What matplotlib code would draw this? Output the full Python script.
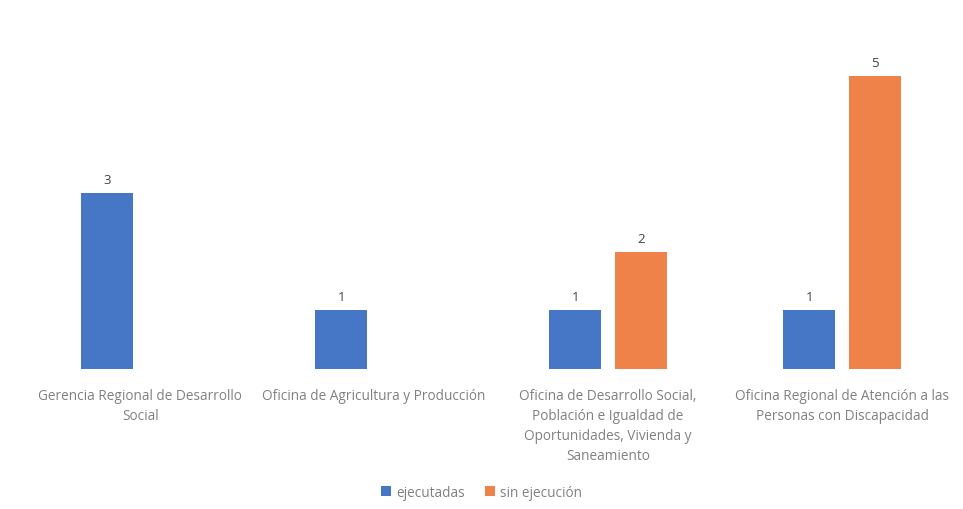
import matplotlib
matplotlib.use("Agg")
import matplotlib.pyplot as plt
import numpy as np

categories = [
    "Gerencia Regional de Desarrollo\nSocial",
    "Oficina de Agricultura y Producción",
    "Oficina de Desarrollo Social,\nPoblación e Igualdad de\nOportunidades, Vivienda y\nSaneamiento",
    "Oficina Regional de Atención a las\nPersonas con Discapacidad",
]
ejecutadas = [3, 1, 1, 1]
sin_ejecucion = [np.nan, np.nan, 2, 5]

plt.rcParams['font.family'] = ['Open Sans', 'DejaVu Sans']
fig = plt.figure(figsize=(9.63, 5.10), dpi=100)
ax = fig.add_axes([0.024, 0.2745, 0.972, 0.69])

x = np.arange(len(categories))
w = 0.222
off = 0.141
blue = "#4676C6"
orange = "#EF8249"
b1 = ax.bar(x - off, ejecutadas, w, color=blue, label="ejecutadas")
b2 = ax.bar(x + off, sin_ejecucion, w, color=orange, label="sin ejecución")

for xi, v in zip(x - off, ejecutadas):
    ax.text(xi, v + 0.12, str(v), ha="center", va="bottom", fontsize=9.5, color="#404040")
for xi, v in zip(x + off, sin_ejecucion):
    if not np.isnan(v):
        ax.text(xi, v + 0.12, str(int(v)), ha="center", va="bottom", fontsize=9.5, color="#404040")

ax.set_xlim(-0.5, 3.5)
ax.set_ylim(0, 6)
ax.set_yticks([])
ax.set_xticks(x)
ax.set_xticklabels(categories, fontsize=9.8, color="#808080", linespacing=1.45)
ax.tick_params(axis="x", length=0, pad=14)
for s in ax.spines.values():
    s.set_visible(False)

fig.legend(handles=[b1, b2], loc="center", bbox_to_anchor=(0.5, 0.033), ncol=2,
           frameon=False, fontsize=9.8, labelcolor="#808080", handlelength=0.7,
           handleheight=0.7, handletextpad=0.4, columnspacing=1.5)

fig.savefig("out.png", dpi=100, facecolor="white")
